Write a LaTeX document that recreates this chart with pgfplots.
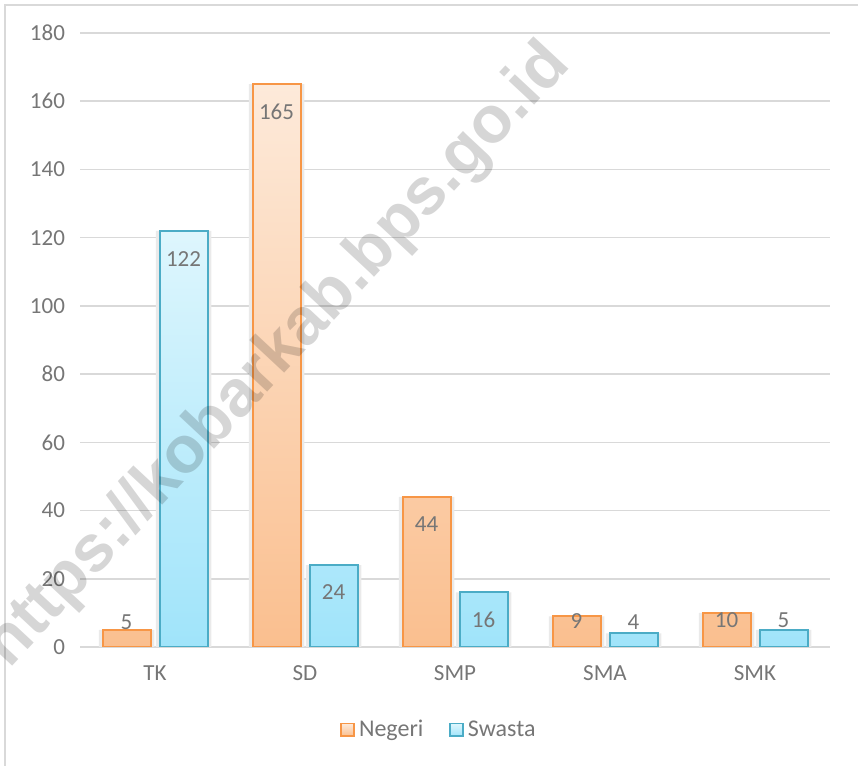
\documentclass[border=0pt]{standalone}
\usepackage{pgfplots}
\pgfplotsset{compat=1.18}
\usepackage{pgfplotstable}
\usepackage{fontspec}
\setmainfont{Carlito}
\newfontfamily\wmfont{Liberation Sans}
\definecolor{negTop}{RGB}{253,234,218}
\definecolor{negBot}{RGB}{250,191,143}
\definecolor{negEdge}{RGB}{247,150,70}
\definecolor{swaTop}{RGB}{222,246,253}
\definecolor{swaBot}{RGB}{160,228,250}
\definecolor{swaEdge}{RGB}{75,172,198}
\definecolor{txt}{RGB}{118,118,118}
\definecolor{gridc}{RGB}{217,217,217}
\definecolor{shad}{RGB}{234,234,234}

\pgfplotstableread{
x v ly
0 5 7.4
1 165 156.8
2 44 36
3 9 7.5
4 10 8
}\negeri
\pgfplotstableread{
x v ly
0 122 113.8
1 24 16
2 16 8
3 4 7.3
4 5 8
}\swasta

\begin{document}
\begin{tikzpicture}
\useasboundingbox (0,0) rectangle (429pt,383pt);
\draw[gridc, line width=0.8pt] (2.5pt,-5pt) -- (2.5pt,380.5pt) -- (440pt,380.5pt);
\begin{axis}[
  at={(40pt,59.5pt)}, anchor=south west,
  scale only axis, width=375pt, height=307pt,
  xmin=-0.5, xmax=4.5, ymin=0, ymax=180,
  ytick={0,20,...,180},
  xtick={0,1,2,3,4},
  xticklabels={TK,SD,SMP,SMA,SMK},
  axis line style={draw=none},
  major tick length=0pt,
  ymajorgrids, grid style={gridc, line width=0.8pt},
  tick label style={font=\fontsize{11.5}{13}\selectfont, text=txt},
  /pgf/number format/assume math mode=true,
  yticklabel style={xshift=-4pt},
  xticklabel style={yshift=-6pt},
  legend style={at={(0.48,-0.135)}, anchor=center, draw=none, fill=none,
    font=\fontsize{12}{13}\selectfont, text=txt, legend columns=2,
    /tikz/every even column/.append style={column sep=11pt}},
  legend cell align=left,
  legend image code/.code={\draw[#1, line width=0.8pt] (0pt,-3.2pt) rectangle (6.5pt,3.2pt);},
]
% shadows
\addplot[ybar, bar width=0.37, bar shift=-0.19, fill=shad, draw=none, forget plot]
  table[x=x, y=v] {\negeri};
\addplot[ybar, bar width=0.37, bar shift=0.19, fill=shad, draw=none, forget plot]
  table[x=x, y=v] {\swasta};
% bars
\addplot[ybar, bar width=0.32, bar shift=-0.19, draw=negEdge, line width=1pt,
  top color=negTop, bottom color=negBot]
  table[x=x, y=v] {\negeri};
\addlegendentry{Negeri}
\addplot[ybar, bar width=0.32, bar shift=0.19, draw=swaEdge, line width=1pt,
  top color=swaTop, bottom color=swaBot]
  table[x=x, y=v] {\swasta};
\addlegendentry{Swasta}
% labels
\addplot[draw=none, mark=none, forget plot, nodes near coords, point meta=explicit symbolic,
  nodes near coords style={anchor=center, text=txt, font=\fontsize{11.5}{13}\selectfont}]
  table[x expr=\thisrow{x}-0.19, y=ly, meta=v] {\negeri};
\addplot[draw=none, mark=none, forget plot, nodes near coords, point meta=explicit symbolic,
  nodes near coords style={anchor=center, text=txt, font=\fontsize{11.5}{13}\selectfont}]
  table[x expr=\thisrow{x}+0.19, y=ly, meta=v] {\swasta};
\end{axis}
\node[rotate=47, text=black, opacity=0.16, font=\wmfont\bfseries\fontsize{33}{36}\selectfont]
  at (139pt,205pt) {https://kobarkab.bps.go.id};
\end{tikzpicture}
\end{document}
